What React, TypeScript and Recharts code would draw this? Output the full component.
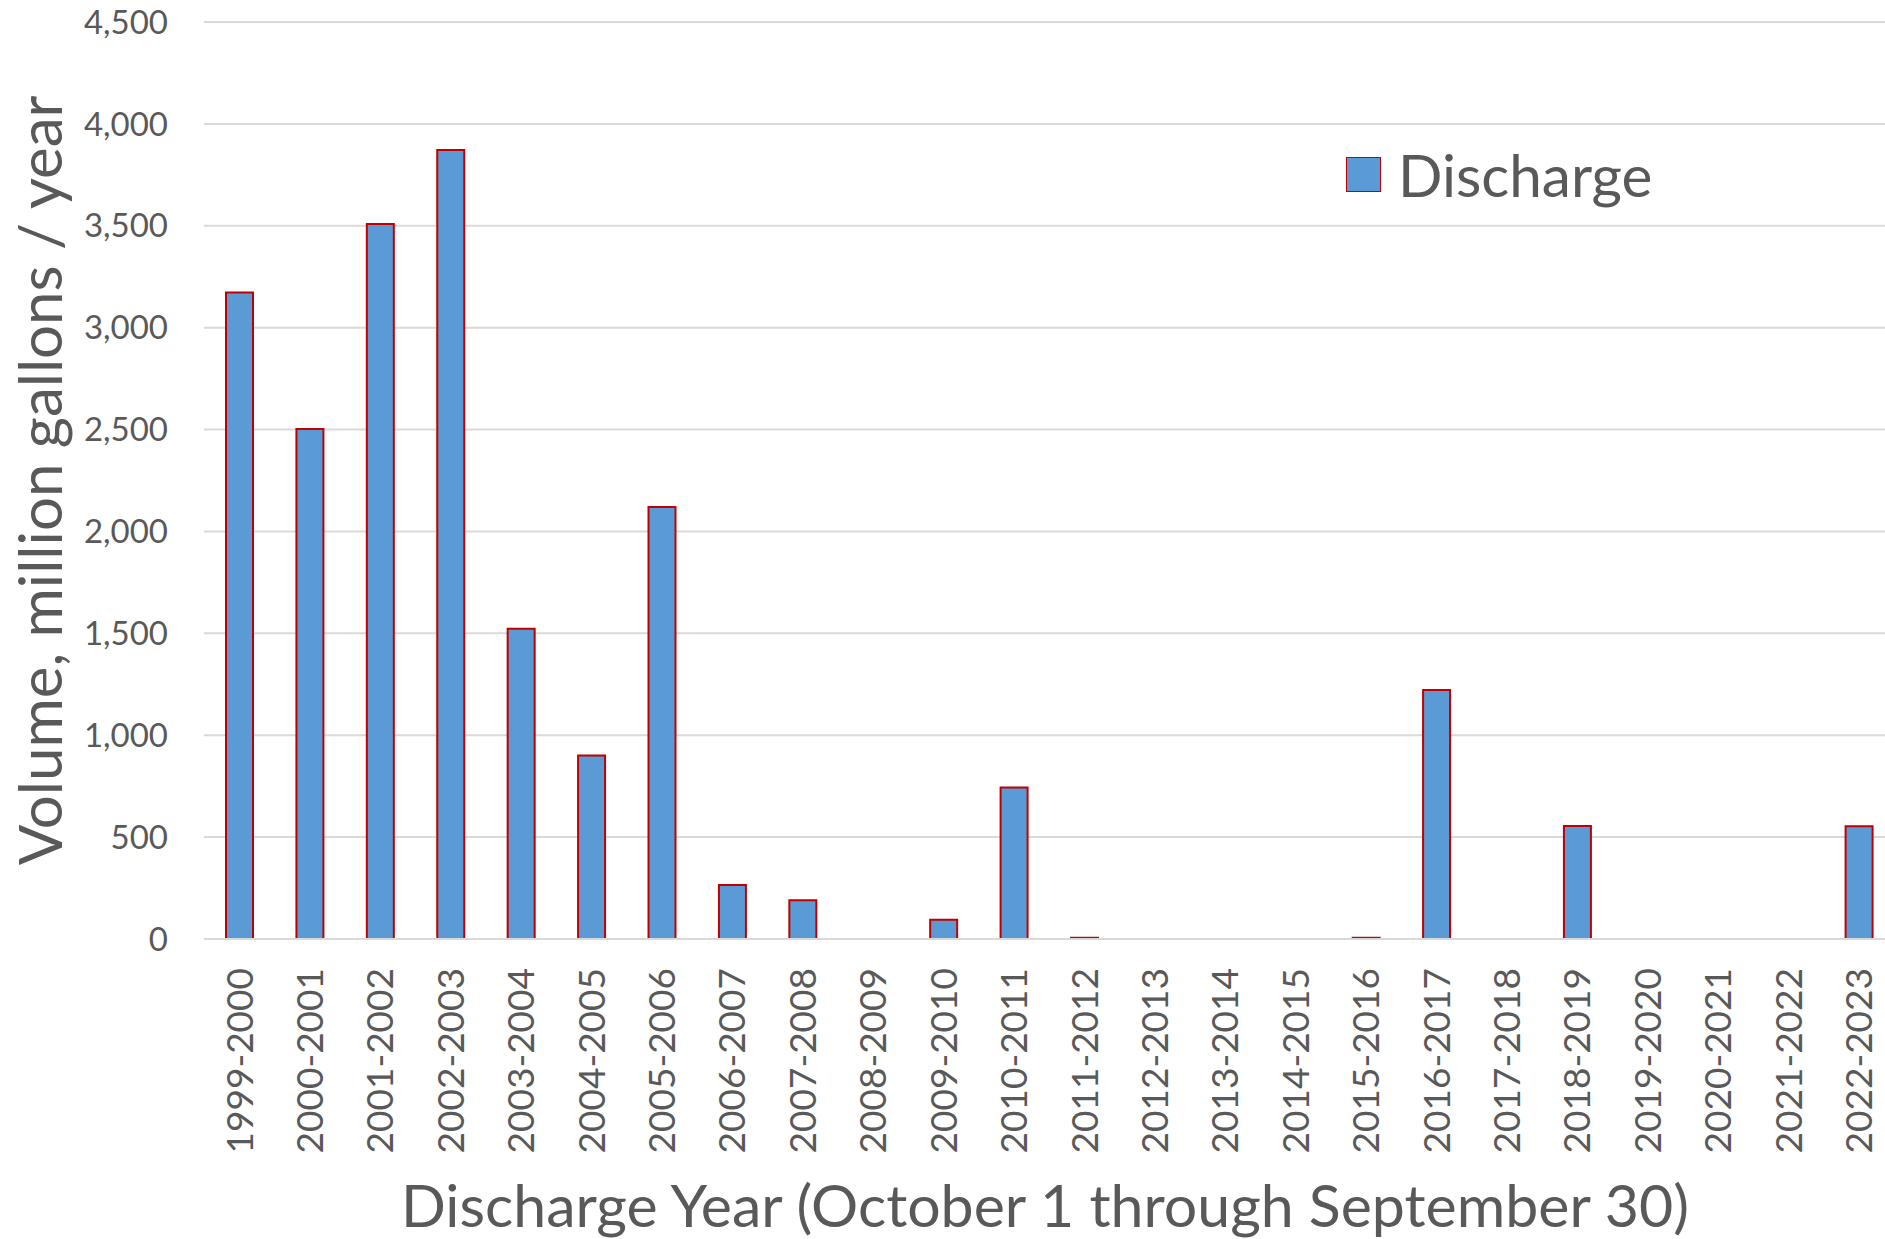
import React from "react";
import {
  BarChart,
  Bar,
  XAxis,
  YAxis,
  CartesianGrid,
  Legend,
  Label
} from "recharts";

const categories = [
  "1999-2000", "2000-2001", "2001-2002", "2002-2003", "2003-2004", "2004-2005",
  "2005-2006", "2006-2007", "2007-2008", "2008-2009", "2009-2010", "2010-2011",
  "2011-2012", "2012-2013", "2013-2014", "2014-2015", "2015-2016", "2016-2017",
  "2017-2018", "2018-2019", "2019-2020", "2020-2021", "2021-2022", "2022-2023"
];

// million gallons per discharge year
const discharge = [
  3173, 2503, 3509, 3872, 1523, 900,
  2120, 265, 190, 0, 94, 743,
  6, 0, 0, 0, 6, 1222,
  0, 555, 0, 0, 0, 553
];

const yTicks = [0, 500, 1000, 1500, 2000, 2500, 3000, 3500, 4000, 4500];

const FONT = "Lato, 'Open Sans', sans-serif";
const TEXT = "#595959";
const GRID = "#D9D9D9";
const FILL = "#5B9BD5";
const EDGE = "#C00000";

const data = categories.map((c, i) => ({ year: c, discharge: discharge[i] }));

const XTick = ({ x, y, payload }: any) => (
  <text
    transform={`translate(${x},${y}) rotate(-90)`}
    textAnchor="end"
    dy="0.36em"
    fontSize={37}
    fontFamily={FONT}
    fill={TEXT}
  >
    {payload.value}
  </text>
);

const XTitle = ({ viewBox }: any) => {
  const vb = viewBox || { x: 204, y: 939, width: 1690, height: 300 };
  return (
    <text
      x={vb.x + vb.width / 2 - 4}
      y={vb.y + 288}
      textAnchor="middle"
      fontSize={59}
      fontFamily={FONT}
      fill={TEXT}
    >
      Discharge Year (October 1 through September 30)
    </text>
  );
};

const YTitle = ({ viewBox }: any) => {
  const vb = viewBox || { x: 0, y: 22, width: 204, height: 917 };
  const cx = vb.x + 40;
  const cy = vb.y + vb.height / 2;
  return (
    <text
      transform={`translate(${cx},${cy}) rotate(-90)`}
      textAnchor="middle"
      dy="0.36em"
      fontSize={60}
      fontFamily={FONT}
      fill={TEXT}
    >
      Volume, million gallons / year
    </text>
  );
};

const LegendBox = () => (
  <div style={{ display: "flex", alignItems: "center", fontFamily: FONT }}>
    <div
      style={{
        width: 33,
        height: 33,
        background: FILL,
        border: `1.5px solid ${EDGE}`
      }}
    />
    <span style={{ marginLeft: 17, fontSize: 58.5, lineHeight: 1, color: TEXT }}>
      Discharge
    </span>
  </div>
);

export default function App() {
  return (
    <div
      style={{
        position: "absolute",
        left: 0,
        top: 0,
        width: 1885,
        height: 1239,
        overflow: "hidden",
        background: "#fff"
      }}
    >
      <BarChart
        width={1894}
        height={1239}
        data={data}
        margin={{ top: 22, right: 0, left: 0, bottom: 0 }}
      >
        <CartesianGrid horizontal vertical={false} stroke={GRID} strokeWidth={2} />
        <XAxis
          dataKey="year"
          interval={0}
          height={300}
          tickLine={false}
          tickSize={0}
          tickMargin={29}
          axisLine={{ stroke: GRID, strokeWidth: 2 }}
          tick={<XTick />}
        >
          <Label content={<XTitle />} />
        </XAxis>
        <YAxis
          width={204}
          domain={[0, 4500]}
          ticks={yTicks}
          interval={0}
          axisLine={false}
          tickLine={false}
          tickSize={0}
          tickMargin={36}
          tickFormatter={(v: number) => v.toLocaleString("en-US")}
          tick={{ fontSize: 33, fontFamily: FONT, fill: TEXT }}
        >
          <Label content={<YTitle />} />
        </YAxis>
        <Legend
          layout="horizontal"
          verticalAlign="middle"
          align="center"
          content={<LegendBox />}
          wrapperStyle={{ left: 1346, top: 145, right: "auto", width: 400 }}
        />
        <Bar
          dataKey="discharge"
          name="Discharge"
          fill={FILL}
          stroke={EDGE}
          strokeWidth={2}
          barSize={27}
          isAnimationActive={false}
        />
      </BarChart>
    </div>
  );
}
